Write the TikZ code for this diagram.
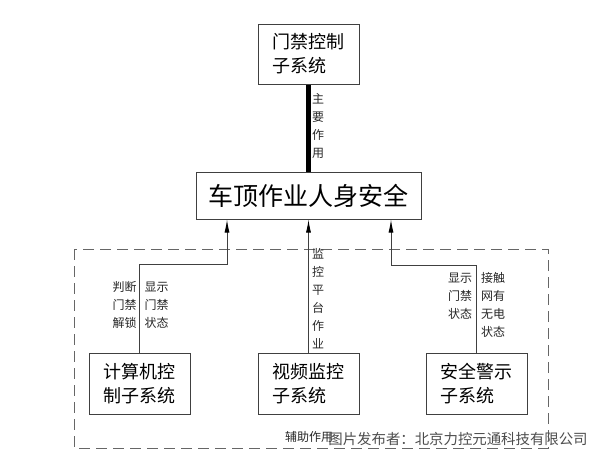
\documentclass[tikz,border=0pt]{standalone}
\usepackage{fontspec}
\setmainfont{Noto Sans CJK SC}
\usepackage{xcolor}
\usetikzlibrary{arrows.meta}

\definecolor{linegray}{HTML}{404040}

\begin{document}
\begin{tikzpicture}[x=1pt, y=-1pt,
  box/.style={rectangle,
      draw=linegray,
      line width=1pt,
      inner sep=0pt,
      align=left,
      font=\fontsize{18}{24}\selectfont},
  note/.style={inner sep=0pt,
      align=center,
      text=black!85,
      font=\fontsize{12}{18}\selectfont},
  arr/.style={draw=linegray, line width=0.9pt,
      -{Latex[length=13pt,width=5pt,black]}}]
\useasboundingbox (0,0) rectangle (600,458);

% main goal
\node[box, minimum width=101pt, minimum height=60pt] (menjin) at (308.5,54)
{门禁控制\\子系统};
\node[box, minimum width=225pt, minimum height=47pt,
      font=\fontsize{25}{30}\selectfont] (anquan) at (308.5,195.5)
{车顶作业人身安全};

\draw[line width=5pt, black] (menjin.south) -- (anquan.north);
\node[note] (zhuyao) at (318,126) {主\\要\\作\\用};

% auxiliary part
\draw[linegray!80, line width=0.9pt, dash pattern=on 11pt off 6pt]
  (74,249) rectangle (548,448);

\node[box, minimum width=101pt, minimum height=61pt] (jisuanji) at (139.5,383.5)
{计算机控\\制子系统};
\node[box, minimum width=101pt, minimum height=61pt] (shipin) at (308.5,383.5)
{视频监控\\子系统};
\node[box, minimum width=101pt, minimum height=61pt] (jingshi) at (476.5,383.5)
{安全警示\\子系统};

\coordinate (lknee) at (227,264);
\coordinate (rknee) at (391,265);
\draw[arr] (jisuanji.north) |- (lknee) -- (lknee |- anquan.south);
\draw[arr] (shipin.north) -- (anquan.south);
\draw[arr] (jingshi.north) |- (rknee) -- (rknee |- anquan.south);

\node[note] (jiesuo) at (124.5,305) {判断\\门禁\\解锁};
\node[note] (xianshil) at (156.5,305) {显示\\门禁\\状态};
\node[note] (jiankong) at (318,298.5) {监\\控\\平\\台\\作\\业};
\node[note] (xianshir) at (460,296) {显示\\门禁\\状态};
\node[note] (jiechu) at (493,305) {接触\\网有\\无电\\状态};

\node[note] (fuzhu) at (309,437) {辅助作用};
\node[note, text=black!70, font=\fontsize{14.4}{16}\selectfont]
  (fabu) at (458,439) {图片发布者：北京力控元通科技有限公司};
\end{tikzpicture}
\end{document}
